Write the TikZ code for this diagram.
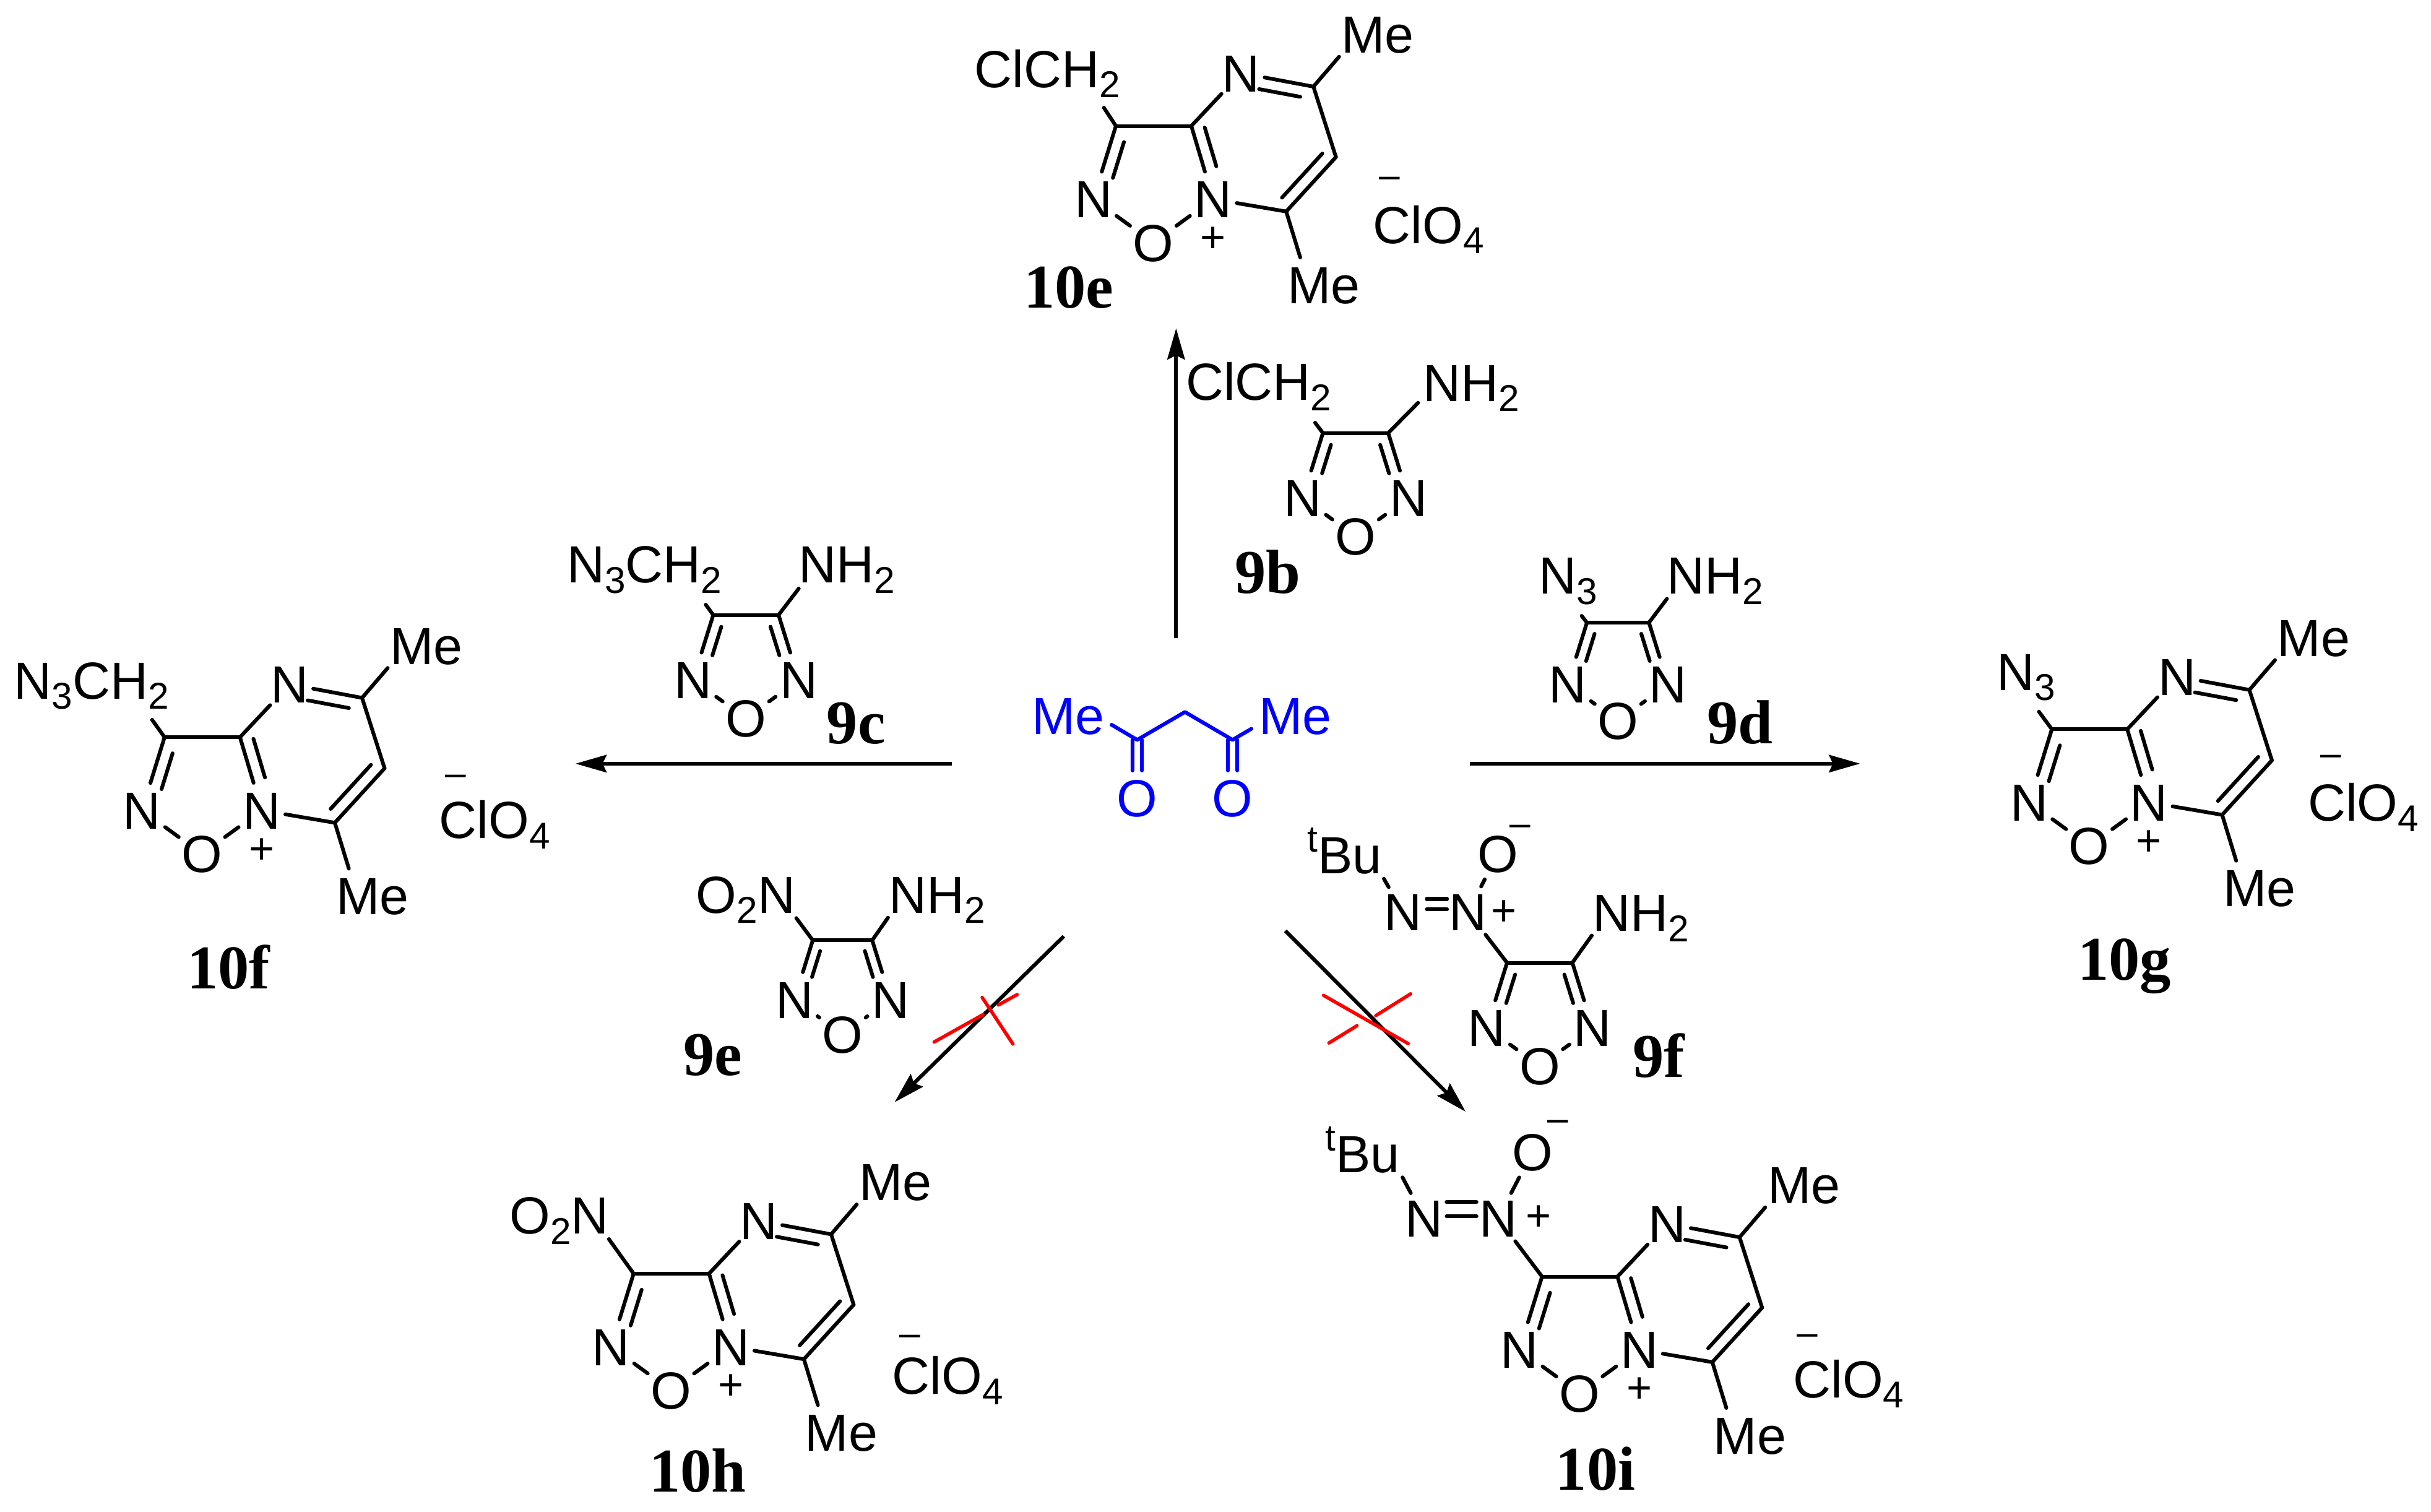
\documentclass[tikz,border=0pt]{standalone}
\usepackage{fontspec}
\setmainfont{Liberation Serif}
\setsansfont{Liberation Sans}
\usetikzlibrary{positioning, arrows.meta, calc}
\definecolor{ketoneblue}{rgb}{0,0,1}
\newcommand{\rxnarrow}{-{Stealth[length=10pt,width=5.6pt,inset=1.3pt]}}
\newcommand{\sbs}[1]{\raisebox{-3.3pt}{\fontsize{12}{12}\selectfont #1}}
\newcommand{\sps}[1]{\raisebox{7pt}{\fontsize{12}{12}\selectfont #1}}
\newcommand{\innerbond}[5]{\draw[bond] ($(#1)!#3!(#2)!#5!90:(#2)$) -- ($(#1)!#4!(#2)!#5!90:(#2)$);}
\tikzset{
  chem/.style={font=\fontsize{16.8}{20}\selectfont\sffamily, text height=12pt, text depth=0pt},
  atom/.style={chem, circle, inner sep=0pt, minimum size=18pt},
  lbl/.style={chem, anchor=west, inner sep=0pt, xshift=-1.2pt},
  cpd/.style={font=\fontsize{20}{24}\selectfont\rmfamily\bfseries, anchor=base west, inner sep=0pt, xshift=-1.2pt},
  pluscharge/.style={font=\fontsize{14}{14}\selectfont\sffamily, inner sep=0pt, yshift=-0.8pt},
  minuscharge/.style={font=\fontsize{12}{12}\selectfont\sffamily, inner sep=0pt, xshift=-0.8pt, yshift=-1.45pt},
  bond/.style={line width=1.2pt, line cap=round, line join=round},
  rxn/.style={line width=1.2pt},
  cross/.style={red, line width=1.1pt, line cap=round}
}
\newcommand{\furazan}[4][1]{%
  \begin{scope}[shift={(#3,#4)}, scale=#1]
    \node[atom] (#2o) at (0,0) {O};
    \node[atom] (#2nl) at (-34,-24.6) {N};
    \node[atom] (#2nr) at (34,-24.6) {N};
    \coordinate (#2cl) at (-21,-66.4);
    \coordinate (#2cr) at (21,-66.4);
    \draw[bond] (#2cl) -- (#2cr);
    \draw[bond] (#2cl) -- (#2nl);
    \draw[bond] (#2cr) -- (#2nr);
    \draw[bond] (#2nl) -- (#2o);
    \draw[bond] (#2nr) -- (#2o);
    \innerbond{#2cl}{#2nl}{.13}{.57}{3.6pt}
    \innerbond{#2cr}{#2nr}{.13}{.57}{-3.6pt}
  \end{scope}}
\newcommand{\fused}[3]{%
  \begin{scope}[shift={(#2,#3)}]
    \node[atom] (#1o) at (0,0) {O};
    \node[atom] (#1nl) at (-38.5,-28) {N};
    \node[atom] (#1np) at (38.5,-28) {N};
    \node[atom] (#1nt) at (56.5,-109) {N};
    \coordinate (#1cl) at (-24,-75);
    \coordinate (#1cr) at (24.5,-75);
    \coordinate (#1cm) at (103,-100.3);
    \coordinate (#1ch) at (117.5,-55);
    \coordinate (#1cb) at (85.5,-20);
    \node[lbl] (#1met) at (123,-134) {Me};
    \node[lbl] (#1meb) at (88.3,27) {Me};
    \coordinate (#1et) at (119.5,-119.5);
    \coordinate (#1eb) at (94.5,9.5);
    \node[pluscharge] (#1plus) at (38.5,-3.5) {+};
    \draw[bond] (#1cl) -- (#1cr);
    \draw[bond] (#1cl) -- (#1nl);
    \draw[bond] (#1cr) -- (#1np);
    \draw[bond] (#1nl) -- (#1o);
    \draw[bond] (#1np) -- (#1o);
    \draw[bond] (#1cr) -- (#1nt);
    \draw[bond, shorten >=-1.5pt] (#1cm) -- (#1nt);
    \draw[bond] (#1cm) -- (#1ch);
    \draw[bond] (#1ch) -- (#1cb);
    \draw[bond, shorten >=-1.5pt] (#1cb) -- (#1np);
    \draw[bond] (#1cm) -- (#1et);
    \draw[bond] (#1cb) -- (#1eb);
    \innerbond{#1cl}{#1nl}{.17}{.66}{4pt}
    \innerbond{#1cr}{#1np}{.07}{.6}{4pt}
    \innerbond{#1cm}{#1nt}{.15}{.72}{4pt}
    \innerbond{#1ch}{#1cb}{.09}{.9}{-4pt}
  \end{scope}}
\newcommand{\perchlorate}[5]{%
  \node[lbl] (#1clo) at (#2,#3) {ClO\sbs{4}};
  \node[minuscharge] (#1minus) at (#4,#5) {–};}
\begin{document}
\begin{tikzpicture}[x=0.5pt, y=-0.5pt]
  \useasboundingbox (0,0) rectangle (1563.1,972.1);

  \coordinate (upstart) at (756.2,410.3);
  \coordinate (upend) at (756.2,211.1);
  \coordinate (leftstart) at (612,491);
  \coordinate (leftend) at (370,491);
  \coordinate (rightstart) at (945,491);
  \coordinate (rightend) at (1196,491);
  \coordinate (dlstart) at (684,602);
  \coordinate (dlend) at (575.2,708.7);
  \coordinate (drstart) at (826.5,598.5);
  \coordinate (drend) at (942.4,714.8);
  \draw[rxn, \rxnarrow] (upstart) -- (upend);
  \draw[rxn, \rxnarrow] (leftstart) -- (leftend);
  \draw[rxn, \rxnarrow] (rightstart) -- (rightend);
  \draw[rxn, \rxnarrow] (dlstart) -- (dlend);
  \draw[rxn, \rxnarrow] (drstart) -- (drend);

  \coordinate (xa) at (600.6,670);
  \coordinate (xb) at (632,652.4);
  \coordinate (xc) at (641.9,646.2);
  \coordinate (xd) at (654,639.5);
  \coordinate (xe) at (631.5,641.3);
  \coordinate (xf) at (651.3,671.3);
  \draw[cross] (xa) -- (xb);
  \draw[cross] (xc) -- (xd);
  \draw[cross] (xe) -- (xf);
  \coordinate (ya) at (851,640);
  \coordinate (yb) at (905.4,671);
  \coordinate (yc) at (907,639);
  \coordinate (yd) at (884.6,653);
  \coordinate (ye) at (872.5,659.5);
  \coordinate (yf) at (854.5,670.6);
  \draw[cross] (ya) -- (yb);
  \draw[cross] (yc) -- (yd);
  \draw[cross] (ye) -- (yf);

  \begin{scope}[ketoneblue, every node/.append style={text=ketoneblue}]
    \node[lbl] (meleft) at (665.5,460) {Me};
    \node[lbl] (meright) at (811.4,460) {Me};
    \node[atom] (oleft) at (731.2,512.9) {O};
    \node[atom] (oright) at (792.5,512.9) {O};
    \coordinate (coleft) at (731.2,475.7);
    \coordinate (coright) at (792.5,475.7);
    \coordinate (chtwo) at (761.9,457.8);
    \coordinate (meleftend) at (714.7,466);
    \coordinate (merightend) at (804.6,468.6);
    \draw[bond] (meleftend) -- (coleft) -- (chtwo) -- (coright) -- (merightend);
    \innerbond{coleft}{oleft}{0}{.53}{1.5pt}
    \innerbond{coleft}{oleft}{0}{.53}{-1.5pt}
    \innerbond{coright}{oright}{0}{.53}{1.5pt}
    \innerbond{coright}{oright}{0}{.53}{-1.5pt}
  \end{scope}

  \furazan{nb}{871.6}{344.8}
  \node[lbl] (nbclch) at (764.5,245.4) {ClCH\sbs{2}};
  \node[lbl] (nbnh) at (917,246) {NH\sbs{2}};
  \coordinate (nbclend) at (845.6,271.8);
  \coordinate (nbnhend) at (911.8,259);
  \draw[bond] (nbcl) -- (nbclend);
  \draw[bond] (nbcr) -- (nbnhend);
  \node[cpd] (nbname) at (796,381.4) {9b};

  \furazan{nc}{479.6}{461.8}
  \node[lbl] (ncazide) at (366.6,362.8) {N\sbs{3}CH\sbs{2}};
  \node[lbl] (ncnh) at (515.7,362.8) {NH\sbs{2}};
  \coordinate (ncazend) at (453.8,388.8);
  \coordinate (ncnhend) at (513.6,378.4);
  \draw[bond] (nccl) -- (ncazend);
  \draw[bond] (nccr) -- (ncnhend);
  \node[cpd] (ncname) at (533.6,478.3) {9c};

  \furazan[.95]{nd}{1040.3}{463.4}
  \node[lbl] (ndazide) at (991.6,370) {N\sbs{3}};
  \node[lbl] (ndnh) at (1074,370) {NH\sbs{2}};
  \coordinate (ndazend) at (1017,396);
  \coordinate (ndnhend) at (1071.8,385);
  \draw[bond] (ndcl) -- (ndazend);
  \draw[bond] (ndcr) -- (ndnhend);
  \node[cpd] (ndname) at (1099.7,478) {9d};

  \furazan[.91]{ne}{541.7}{665}
  \node[lbl] (nenitro) at (449.6,575) {O\sbs{2}N};
  \node[lbl] (nenh) at (573.6,575) {NH\sbs{2}};
  \coordinate (nenoend) at (512,590.3);
  \coordinate (nenhend) at (571,590);
  \draw[bond] (necl) -- (nenoend);
  \draw[bond] (necr) -- (nenhend);
  \node[cpd] (nename) at (441.6,691.5) {9e};

  \furazan{nf}{990}{685.4}
  \node[lbl] (nfnh) at (1026,586.7) {NH\sbs{2}};
  \node[lbl] (nfbu) at (842.7,549.8) {\sps{t}Bu};
  \node[atom] (nfna) at (902,586.4) {N};
  \node[atom] (nfnb) at (944,586.4) {N};
  \node[atom] (nfox) at (963,549) {O};
  \node[pluscharge] (nfplus) at (967,585.4) {+};
  \node[minuscharge] (nfminus) at (979,531) {–};
  \coordinate (nfnhend) at (1023.5,601.5);
  \coordinate (nfbuend) at (889.8,565);
  \draw[bond] (nfcr) -- (nfnhend);
  \draw[bond] (nfcl) -- (nfnb);
  \draw[bond] (nfbuend) -- (nfna);
  \draw[bond] (nfnb) -- (nfox);
  \draw[bond] ([xshift=-1.5pt,yshift=4.2pt]nfna.east) -- ([xshift=2.4pt,yshift=4.2pt]nfnb.west);
  \draw[bond] ([xshift=-1.5pt,yshift=0.9pt]nfna.east) -- ([xshift=2.4pt,yshift=0.9pt]nfnb.west);
  \node[cpd] (nfname) at (1052,692.8) {9f};

  \fused{te}{741.5}{156}
  \node[lbl] (teclch) at (628.6,44.2) {ClCH\sbs{2}};
  \coordinate (tesubend) at (709.8,69.3);
  \draw[bond] (tecl) -- (tesubend);
  \perchlorate{te}{885}{144.5}{895}{114.6}
  \node[cpd] (tename) at (660.3,198) {10e};

  \fused{tf}{129.8}{549}
  \node[lbl] (tfazide) at (11,437.4) {N\sbs{3}CH\sbs{2}};
  \coordinate (tfsubend) at (97.8,462.8);
  \draw[bond] (tfcl) -- (tfsubend);
  \perchlorate{tf}{284.4}{527.2}{294.4}{499}
  \node[cpd] (tfname) at (122.2,635.9) {10f};

  \fused{tg}{1343.3}{543.9}
  \node[lbl] (tgazide) at (1286,431.8) {N\sbs{3}};
  \coordinate (tgsubend) at (1311,457.6);
  \draw[bond] (tgcl) -- (tgsubend);
  \perchlorate{tg}{1486}{516}{1500.4}{486.3}
  \node[cpd] (tgname) at (1338,630.2) {10g};

  \fused{th}{431.4}{893.9}
  \node[lbl] (thnitro) at (329.8,781.3) {O\sbs{2}N};
  \coordinate (thsubend) at (391.5,796.7);
  \draw[bond] (thcl) -- (thsubend);
  \perchlorate{th}{575.8}{884.4}{586.8}{858.8}
  \node[cpd] (thname) at (419.6,959.2) {10h};

  \fused{ti}{1015.5}{895.8}
  \node[atom] (tina) at (915.7,783.4) {N};
  \node[atom] (tinb) at (963.2,783.4) {N};
  \node[atom] (tiox) at (985.3,740.7) {O};
  \node[lbl] (tibu) at (854.3,742) {\sps{t}Bu};
  \node[pluscharge] (tiplus) at (989.4,781.6) {+};
  \node[minuscharge] (timinus) at (1003.2,721) {–};
  \coordinate (tibuend) at (901.8,757);
  \draw[bond] (ticl) -- (tinb);
  \draw[bond] (tibuend) -- (tina);
  \draw[bond] (tinb) -- (tiox);
  \draw[bond] ([xshift=-2pt,yshift=5.25pt]tina.east) -- ([xshift=2.3pt,yshift=5.25pt]tinb.west);
  \draw[bond] ([xshift=-2pt,yshift=0.7pt]tina.east) -- ([xshift=2.3pt,yshift=0.7pt]tinb.west);
  \perchlorate{ti}{1155}{886.6}{1163.5}{858.5}
  \node[cpd] (tiname) at (1002.3,957.9) {10i};
\end{tikzpicture}
\end{document}
